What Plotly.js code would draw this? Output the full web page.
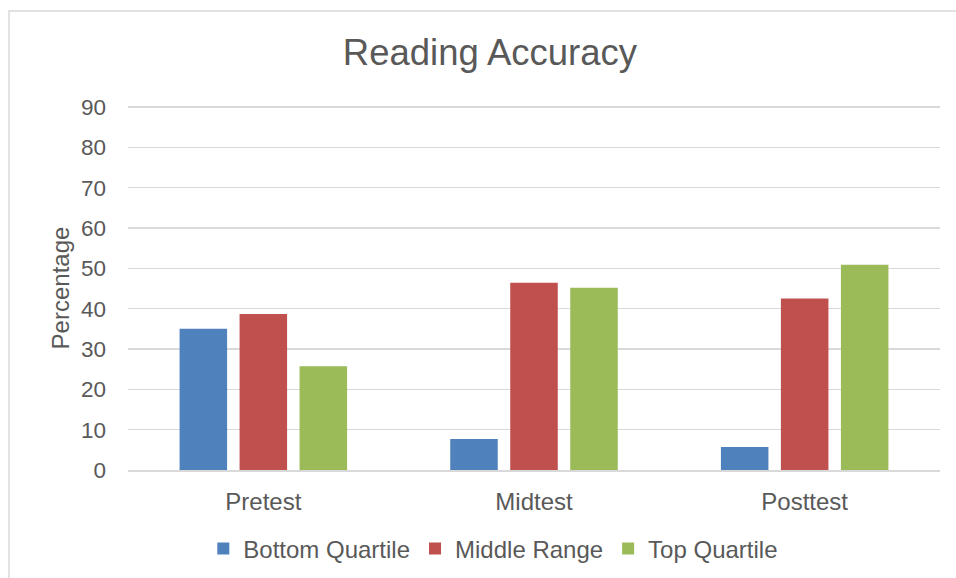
<!DOCTYPE html>
<html>
<head>
<meta charset="utf-8">
<script src="https://cdn.plot.ly/plotly-3.0.1.min.js"></script>
<style>
  html, body { margin: 0; padding: 0; background: #ffffff; }
  #chart { width: 956px; height: 578px; }
</style>
</head>
<body>
<div id="chart"></div>
<script>
// ---- data ----
const categories = ["Pretest", "Midtest", "Posttest"];
const seriesNames = ["Bottom Quartile", "Middle Range", "Top Quartile"];
const bottomQuartile = [35, 7.7, 5.7];
const middleRange = [38.7, 46.4, 42.5];
const topQuartile = [25.7, 45.2, 50.9];
const yTickValues = [0, 10, 20, 30, 40, 50, 60, 70, 80, 90];

const colors = ["#4f81bd", "#c0504d", "#9bbb59"];
const seriesValues = [bottomQuartile, middleRange, topQuartile];

const traces = seriesValues.map((vals, i) => ({
  type: "bar",
  name: seriesNames[i],
  x: categories,
  y: vals,
  marker: { color: colors[i], line: { width: 0 } },
  hoverinfo: "x+y+name"
}));

const textColor = "#595959";
const fontFam = "Arial, 'Liberation Sans', sans-serif";

const layout = {
  width: 956,
  height: 578,
  paper_bgcolor: "#ffffff",
  plot_bgcolor: "#ffffff",
  margin: { l: 128, r: 16, t: 106, b: 108 },
  font: { family: fontFam, color: textColor, size: 23 },
  title: {
    text: "Reading Accuracy",
    font: { family: fontFam, size: 36.5, color: textColor },
    x: 0.5125, xref: "container", xanchor: "center",
    y: 1 - 52 / 578, yref: "container", yanchor: "middle"
  },
  barmode: "group",
  bargap: 0.335,
  bargroupgap: 0.208,
  xaxis: {
    type: "category",
    showline: true,
    linecolor: "#d9d9d9",
    linewidth: 2,
    ticks: "",
    showgrid: false,
    tickfont: { size: 24, color: textColor },
    ticklabelstandoff: 9
  },
  yaxis: {
    range: [0, 90.25],
    tickvals: yTickValues,
    showgrid: true,
    gridcolor: "#d9d9d9",
    gridwidth: 1.5,
    zeroline: false,
    showline: false,
    ticks: "",
    tickfont: { size: 22.5, color: textColor },
    ticklabelstandoff: 21,
    title: {
      text: "Percentage",
      font: { size: 24, color: textColor },
      standoff: 4
    }
  },
  showlegend: true,
  legend: {
    orientation: "h",
    x: 0.516, xref: "container", xanchor: "center",
    y: 1 - 549 / 578, yref: "container", yanchor: "middle",
    font: { size: 24, color: textColor },
    itemwidth: 30,
    traceorder: "normal"
  },
  shapes: [{
    type: "rect",
    xref: "paper", yref: "paper",
    x0: (9 - 128) / 812, x1: (962 - 128) / 812,
    y0: (470 - 590) / 364, y1: (470 - 11) / 364,
    line: { color: "#d9d9d9", width: 1.5 },
    fillcolor: "rgba(0,0,0,0)",
    layer: "below"
  }]
};

Plotly.newPlot("chart", traces, layout, { displayModeBar: false, staticPlot: true });
</script>
</body>
</html>
